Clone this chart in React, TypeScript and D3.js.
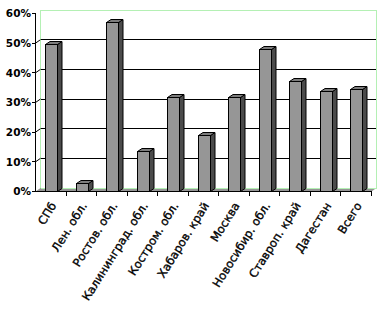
import React from "react";
import * as d3 from "d3";

const categories = [
  "СПб",
  "Лен. обл.",
  "Ростов. обл.",
  "Калининград. обл.",
  "Костром. обл.",
  "Хабаров. край",
  "Москва",
  "Новосибир. обл.",
  "Ставроп. край",
  "Дагестан",
  "Всего",
];
const values = [49.8, 2.9, 57.1, 13.6, 31.8, 18.9, 31.7, 48.1, 37.1, 34.0, 34.4];
const yTicks = [0, 10, 20, 30, 40, 50, 60];
const yTickLabels = ["0%", "10%", "20%", "30%", "40%", "50%", "60%"];

const W = 378;
const H = 317;
const DX = 5;
const DY = -3.5;
const BDX = 4.5;
const BDY = -3;
const GREEN = "#b4f0b4";

export default function App() {
  const x = d3.scaleBand<string>().domain(categories).range([35.5, 371.5]);
  const y = d3.scaleLinear().domain([0, 60]).range([191.5, 13.5]);
  const bw = x.bandwidth();
  const x0 = 35.5;
  const x1 = 371.5;
  const y0 = y(0);
  const yTop = y(60);
  const font = "'DejaVu Sans', Verdana, sans-serif";

  return (
    <svg
      width={W}
      height={H}
      style={{ position: "absolute", left: 0, top: 0, background: "#fff" }}
    >
      {/* back wall */}
      <rect
        x={x0 + DX}
        y={yTop + DY}
        width={x1 - x0}
        height={y0 - yTop}
        fill="#fff"
        stroke={GREEN}
        shapeRendering="crispEdges"
      />
      {/* side wall */}
      <polygon
        points={`${x0},${yTop} ${x0 + DX},${yTop + DY} ${x0 + DX},${y0 + DY} ${x0},${y0}`}
        fill="#fff"
        stroke="none"
      />
      <line x1={x0 + DX} x2={x0 + DX} y1={yTop + DY} y2={y0 + DY} stroke={GREEN} shapeRendering="crispEdges" />
      {/* gridlines */}
      {yTicks
        .filter((t) => t > 0 && t < 60)
        .map((t) => (
          <g key={t}>
            <line
              x1={x0 + DX}
              x2={x1 + DX}
              y1={y(t) + DY}
              y2={y(t) + DY}
              stroke="#000"
              shapeRendering="crispEdges"
            />
            <line x1={x0} x2={x0 + DX} y1={y(t)} y2={y(t) + DY} stroke="#000" />
          </g>
        ))}
      {/* floor */}
      <polygon
        points={`${x0},${y0} ${x1},${y0} ${x1 + DX},${y0 + DY} ${x0 + DX},${y0 + DY}`}
        fill="#959595"
        stroke="none"
      />
      <line x1={x0 + DX} x2={x1 + DX} y1={y0 + DY} y2={y0 + DY} stroke={GREEN} shapeRendering="crispEdges" />
      <line x1={x1 + DX} x2={x1 + DX} y1={yTop + DY} y2={y0 + DY} stroke={GREEN} shapeRendering="crispEdges" />
      {/* bars */}
      {categories.map((c, i) => {
        const bx = Math.round((x(c) as number) + bw * 0.31) + 0.5;
        const w = 12;
        const top = Math.round(y(values[i])) + 0.5;
        const bot = y0;
        return (
          <g key={c} stroke="#000" strokeWidth={1} strokeLinejoin="miter">
            <polygon
              points={`${bx + w},${top} ${bx + w + BDX},${top + BDY} ${bx + w + BDX},${bot + BDY} ${bx + w},${bot}`}
              fill="#4b4b4b"
            />
            <polygon
              points={`${bx},${top} ${bx + BDX},${top + BDY} ${bx + w + BDX},${top + BDY} ${bx + w},${top}`}
              fill="#7d7d7d"
            />
            <rect x={bx} y={top} width={w} height={bot - top} fill="#969696" />
          </g>
        );
      })}
      {/* y axis */}
      <line x1={x0} x2={x0} y1={yTop} y2={y0} stroke="#000" shapeRendering="crispEdges" />
      {yTicks.map((t, i) => (
        <g key={t}>
          <line x1={x0 - 4} x2={x0} y1={y(t)} y2={y(t)} stroke="#000" shapeRendering="crispEdges" />
          <text
            x={31}
            y={y(t)}
            dy="0.36em"
            textAnchor="end"
            fontFamily={font}
            fontWeight="bold"
            fontSize={10.5}
            fill="#000"
          >
            {yTickLabels[i]}
          </text>
        </g>
      ))}
      {/* x axis */}
      <line x1={x0} x2={x1} y1={y0} y2={y0} stroke="#000" shapeRendering="crispEdges" />
      {categories.map((c) => (
        <line
          key={"t" + c}
          x1={(x(c) as number) + bw}
          x2={(x(c) as number) + bw}
          y1={y0}
          y2={y0 + 4}
          stroke="#000"
          shapeRendering="crispEdges"
        />
      ))}
      {categories.map((c) => {
        const cx = (x(c) as number) + bw / 2 + 6;
        return (
          <text
            key={"l" + c}
            transform={`translate(${cx},${y0 + 14}) rotate(-58)`}
            textAnchor="end"
            fontFamily={font}
            fontSize={11.5}
            fill="#000"
            stroke="#000"
            strokeWidth={0.35}
          >
            {c}
          </text>
        );
      })}
    </svg>
  );
}
